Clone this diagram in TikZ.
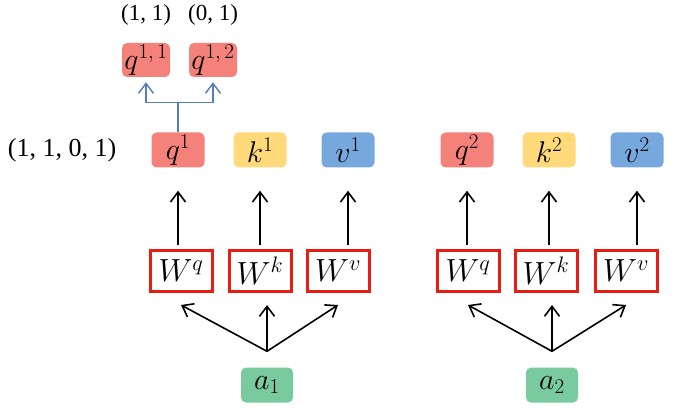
\documentclass[tikz,border=0pt]{standalone}
\usepackage{fix-cm}
\usepackage{amssymb,amsmath}
\usepackage{fontspec}
\setmainfont{Liberation Serif}
\usepackage{tikz}
\usetikzlibrary{positioning, arrows.meta}
\definecolor{qred}{RGB}{245,130,122}
\definecolor{kyel}{RGB}{255,217,122}
\definecolor{vblu}{RGB}{118,168,222}
\definecolor{agrn}{RGB}{122,202,160}
\definecolor{wred}{RGB}{232,28,18}
\definecolor{lnk}{RGB}{84,126,190}
\tikzset{% 
	x = 1pt, y = 1pt,
	>={Straight Barb[length=10pt, width=15pt]},
	every edge/.append style={line width = 1.6pt},
	tup/.style = {name = #1, inner sep = 0pt, font = \fontsize{23}{25}\selectfont},
	vec/.style = {name = #1, rounded corners = 5pt, minimum width = 53pt, minimum height = 35pt, inner sep = 0pt, font = \fontsize{30}{32}\selectfont},
	mat/.style = {name = #1, draw = wred, line width = 3pt, minimum width = 62pt, minimum height = 41pt, inner sep = 0pt, font = \fontsize{32}{34}\selectfont},
	lnk/.style = {draw = lnk, line width = 1.4pt}
}
\begin{document}
\begin{tikzpicture}
	\useasboundingbox (0,0) rectangle (679,410);
	\node [tup = t11] at (146,395) {(1, 1)};
	\node [tup = t12] at (213,395) {(0, 1)};
	\node [tup = t1, font = \fontsize{26}{28}\selectfont] at (62,260) {(1, 1, 0, 1)};
	\node [vec = q11, fill = qred, minimum width = 48pt, minimum height = 34pt] at (146,350) {$q^{1,\,1}$};
	\node [vec = q12, fill = qred, minimum width = 48pt, minimum height = 34pt] at (213,350) {$q^{1,\,2}$};
	\node [vec = q1, fill = qred] at (178,260) {$q^1$};
	\node [vec = k1, fill = kyel] at (260,260) {$k^1$};
	\node [vec = v1, fill = vblu] at (348,260) {$v^1$};
	\node [vec = q2, fill = qred] at (467,260) {$q^2$};
	\node [vec = k2, fill = kyel] at (549,260) {$k^2$};
	\node [vec = v2, fill = vblu] at (637,260) {$v^2$};
	\node [mat = wq1] at (181,139) {$W^q$};
	\node [mat = wk1] at (260,139) {$W^k$};
	\node [mat = wv1] at (338,139) {$W^v$};
	\node [mat = wq2] at (468,139) {$W^q$};
	\node [mat = wk2] at (546,139) {$W^k$};
	\node [mat = wv2] at (626,139) {$W^v$};
	\node [vec = a1, fill = agrn, minimum width = 52pt] at (267,25) {$a_1$};
	\node [vec = a2, fill = agrn, minimum width = 52pt] at (552,25) {$a_2$};
	% split of q^1
	\coordinate (s1) at ([yshift = 30pt]q1.north);
	\draw [lnk] (q1.north) -- (s1);
	\draw [lnk, ->, shorten >= 5pt] (s1) -| (q11.south);
	\draw [lnk, ->, shorten >= 5pt] (s1) -| (q12.south);
	% W to q, k, v
	\path [->, shorten <= 4pt, shorten >= 23pt] (wq1.north -| q1) edge (q1.south);
	\path [->, shorten <= 4pt, shorten >= 23pt] (wk1.north -| k1) edge (k1.south);
	\path [->, shorten <= 4pt, shorten >= 23pt] (wv1.north -| v1) edge (v1.south);
	\path [->, shorten <= 4pt, shorten >= 23pt] (wq2.north -| q2) edge (q2.south);
	\path [->, shorten <= 4pt, shorten >= 23pt] (wk2.north -| k2) edge (k2.south);
	\path [->, shorten <= 4pt, shorten >= 23pt] (wv2.north -| v2) edge (v2.south);
	% a to W
	\coordinate (j1) at ([yshift = 16pt]a1.north);
	\coordinate (j2) at ([yshift = 16pt]a2.north);
	\path [->] (j1) edge ([yshift = -12pt]wq1.south);
	\path [->, shorten >= 12pt] (j1) edge (j1 |- wk1.south);
	\path [->] (j1) edge ([yshift = -12pt]wv1.south);
	\path [->] (j2) edge ([yshift = -12pt]wq2.south);
	\path [->, shorten >= 12pt] (j2) edge (j2 |- wk2.south);
	\path [->] (j2) edge ([yshift = -12pt]wv2.south);
\end{tikzpicture}
\end{document}
